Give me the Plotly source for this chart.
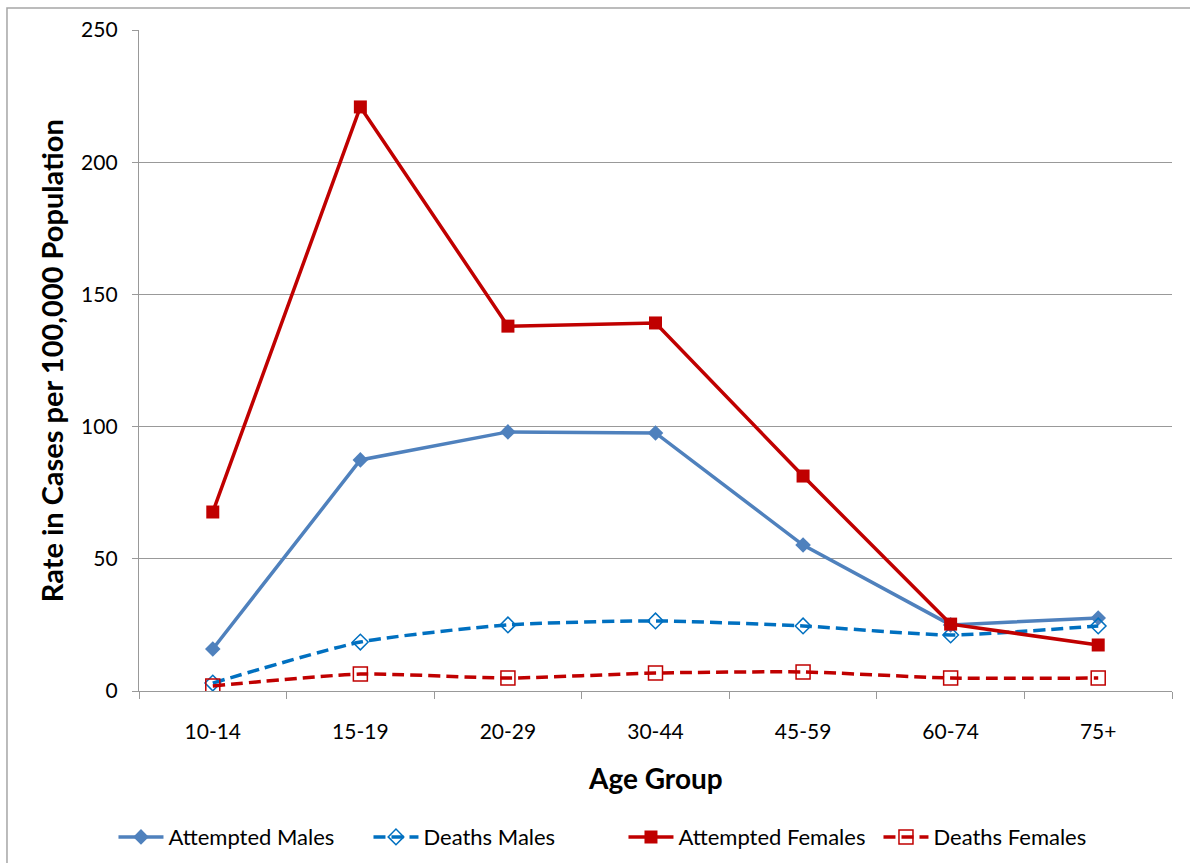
import plotly.graph_objects as go

age_groups = ["10-14", "15-19", "20-29", "30-44", "45-59", "60-74", "75+"]
attempted_males = [15.9, 87.4, 98.0, 97.6, 55.2, 25.0, 27.6]
deaths_males = [3.0, 18.5, 25.0, 26.5, 24.6, 21.2, 24.6]
attempted_females = [67.7, 220.9, 138.0, 139.2, 81.3, 25.3, 17.4]
deaths_females = [1.9, 6.4, 4.9, 6.8, 7.2, 4.9, 4.9]

font_family = "Lato, Calibri, Carlito, sans-serif"

fig = go.Figure()
fig.add_trace(go.Scatter(
    x=age_groups, y=attempted_males, name="Attempted Males", mode="lines+markers",
    line=dict(color="#4F81BD", width=3.5),
    marker=dict(symbol="diamond", size=12, color="#4F81BD"),
))
fig.add_trace(go.Scatter(
    x=age_groups, y=deaths_males, name="Deaths Males", mode="lines+markers",
    line=dict(color="#0070C0", width=3.5, dash="12px,6px", shape="spline", smoothing=0.6),
    marker=dict(symbol="diamond-open", size=12, color="#0070C0", line=dict(width=1.5)),
))
fig.add_trace(go.Scatter(
    x=age_groups, y=attempted_females, name="Attempted Females", mode="lines+markers",
    line=dict(color="#C00000", width=3.5),
    marker=dict(symbol="square", size=13, color="#C00000"),
))
fig.add_trace(go.Scatter(
    x=age_groups, y=deaths_females, name="Deaths Females", mode="lines+markers",
    line=dict(color="#C00000", width=3.5, dash="12px,6px", shape="spline", smoothing=0.6),
    marker=dict(symbol="square-open", size=14, color="#C00000", line=dict(width=1.5)),
))

fig.update_layout(
    width=1190, height=863,
    margin=dict(l=139, r=18, t=30, b=172, autoexpand=False),
    paper_bgcolor="white", plot_bgcolor="white",
    font=dict(family=font_family, size=20, color="black"),
    showlegend=True,
    legend=dict(orientation="h", x=0.469, xanchor="center", y=-0.221, yanchor="middle",
                font=dict(size=22), traceorder="normal", itemwidth=45,
                entrywidth=195, entrywidthmode="pixels"),
    xaxis=dict(
        type="category", range=[-0.5, 6.5], showgrid=False,
        showline=True, linecolor="#999999", linewidth=1.3,
        ticks="outside", tickson="boundaries", ticklen=7, tickcolor="#999999",
        tickfont=dict(size=21), ticklabelstandoff=22, zeroline=False,
    ),
    yaxis=dict(
        range=[0, 250], dtick=50, showgrid=True, gridcolor="#999999", gridwidth=1.3,
        showline=True, linecolor="#999999", linewidth=1.3,
        ticks="outside", ticklen=6, tickcolor="#999999",
        tickfont=dict(size=21), ticklabelstandoff=10, zeroline=False,
    ),
    shapes=[dict(type="rect", xref="paper", yref="paper", x0=-0.1278, x1=1.2,
                 y0=-0.5, y1=1.0333, line=dict(color="#A6A6A6", width=1.5), layer="below")],
    annotations=[
        dict(text="<b>Age Group</b>", xref="paper", yref="paper", x=0.5, y=-0.131,
             xanchor="center", yanchor="middle", showarrow=False, font=dict(size=28)),
        dict(text="<b>Rate in Cases per 100,000 Population</b>", xref="paper", yref="paper",
             x=-0.0845, y=0.5, textangle=-90, xanchor="center", yanchor="middle",
             showarrow=False, font=dict(size=29)),
    ],
)

fig.write_html("out.html")
